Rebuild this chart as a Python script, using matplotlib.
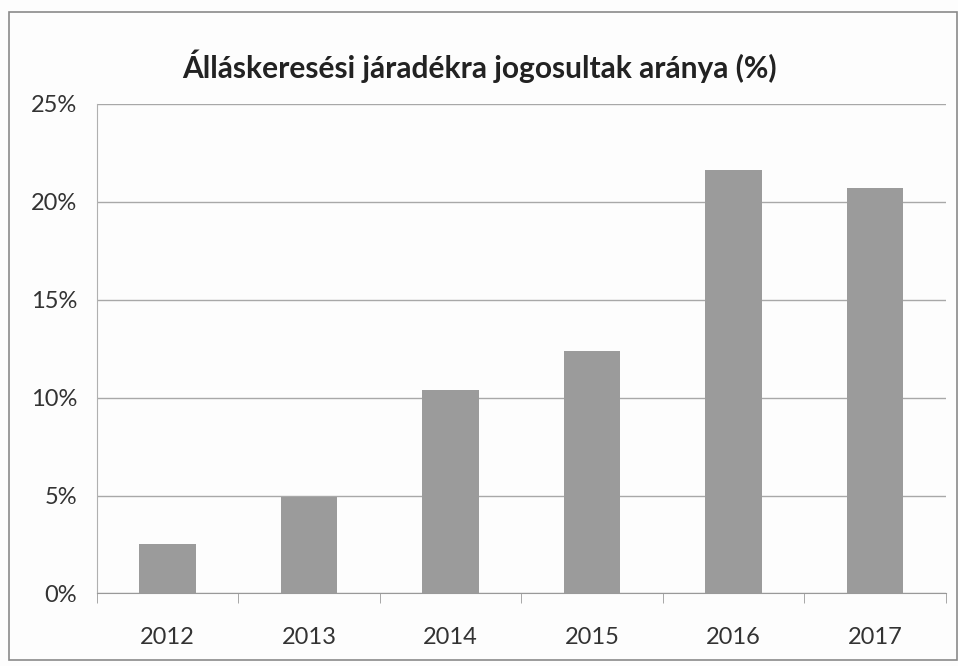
import numpy as np
import matplotlib.pyplot as plt
from matplotlib.patches import Rectangle

years = ['2012', '2013', '2014', '2015', '2016', '2017']
share = [2.5, 4.9, 10.4, 12.4, 21.6, 20.7]   # %
y_ticks = [0, 5, 10, 15, 20, 25]
title = 'Álláskeresési járadékra jogosultak aránya (%)'

plt.rcParams['font.family'] = ['Lato', 'DejaVu Sans']

fig = plt.figure(figsize=(9.58, 6.66), dpi=100)
fig.patch.set_facecolor('#fdfdfd')
# chart area border
fig.patches.append(Rectangle((0.009, 0.009), 0.99, 0.973, transform=fig.transFigure,
                             fill=False, edgecolor='#8a8a8a', linewidth=1.2))

ax = fig.add_axes([0.101, 0.109, 0.886, 0.735])
ax.set_facecolor('#fdfdfd')
x = np.arange(len(years))
ax.bar(x, share, width=0.4, color='#9b9b9b', zorder=3)

ax.set_xlim(-0.5, len(years) - 0.5)
ax.set_ylim(0, 25)
ax.set_yticks(y_ticks)
ax.set_yticklabels([f'{v}%' for v in y_ticks])
ax.set_xticks(x)
ax.set_xticklabels(years)
ax.set_xticks(np.arange(-0.5, len(years), 1), minor=True)

ax.grid(axis='y', color='#a8a8a8', linewidth=1.0, zorder=0)
for s in ['top', 'right']:
    ax.spines[s].set_visible(False)
ax.spines['left'].set_color('#b0b0b0')
ax.spines['bottom'].set_color('#999999')
ax.tick_params(axis='y', length=0, pad=14, labelsize=17, labelcolor='#333333')
ax.tick_params(axis='x', which='major', length=0, pad=24, labelsize=17, labelcolor='#333333')
ax.tick_params(axis='x', which='minor', length=7, color='#999999')

fig.text(0.5, 0.9, title, ha='center', va='center', fontsize=21.5,
         fontweight='bold', color='#222222')

fig.savefig('out.png', dpi=100, facecolor=fig.get_facecolor())
